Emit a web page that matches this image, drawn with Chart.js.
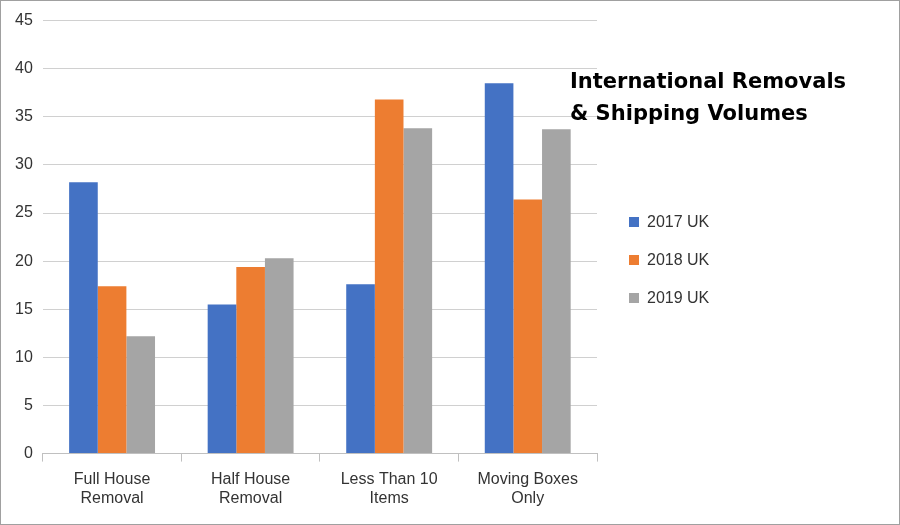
<!DOCTYPE html>
<html><head><meta charset="utf-8">
<script src="https://cdn.jsdelivr.net/npm/chart.js@4"></script>
<style>
html,body{margin:0;padding:0;background:#fff}
#wrap{position:relative;width:898px;height:523px;border:1px solid #a0a0a0}
#title{position:absolute;left:569px;top:64px;font:bold 21px "DejaVu Sans",sans-serif;line-height:32px;color:#000}
#legend{position:absolute;left:628px;top:212px;font:16px "Liberation Sans",sans-serif;color:#333}
#legend div{height:38px;display:flex;align-items:flex-start}
#legend span{display:inline-block;width:10px;height:10px;margin:4px 8px 0 0}
</style></head><body>
<div id="wrap"><canvas id="c" width="898" height="523"></canvas>
<div id="title">International Removals<br>&amp; Shipping Volumes</div>
<div id="legend"></div></div>
<script>
const categories=[["Full House","Removal"],["Half House","Removal"],["Less Than 10","Items"],["Moving Boxes","Only"]];
const seriesNames=["2017 UK","2018 UK","2019 UK"];
const colors=["#4472C4","#ED7D31","#A5A5A5"];
const v2017=[28.2,15.5,17.6,38.5];
const v2018=[17.4,19.4,36.8,26.4];
const v2019=[12.2,20.3,33.8,33.7];
const vals=[v2017,v2018,v2019];
document.getElementById('legend').innerHTML=seriesNames.map((n,i)=>`<div><span style="background:${colors[i]}"></span>${n}</div>`).join('');
new Chart(document.getElementById('c'),{type:'bar',
data:{labels:categories,datasets:seriesNames.map((n,i)=>({label:n,data:vals[i],backgroundColor:colors[i],categoryPercentage:0.62,barPercentage:1}))},
options:{responsive:false,animation:false,
layout:{padding:{left:4,right:302,top:14,bottom:8}},
plugins:{legend:{display:false},tooltip:{enabled:false}},
scales:{
y:{min:0,max:45,ticks:{stepSize:5,color:'#333',font:{size:16,family:'Liberation Sans'},padding:10},grid:{color:'#d0d0d0',drawTicks:false},border:{display:false}},
x:{ticks:{color:'#333',font:{size:16,family:'Liberation Sans'},padding:8},grid:{display:true,drawOnChartArea:false,color:'#c0c0c0',tickLength:8,offset:true},border:{color:'#c0c0c0'}}
}}});
</script></body></html>
